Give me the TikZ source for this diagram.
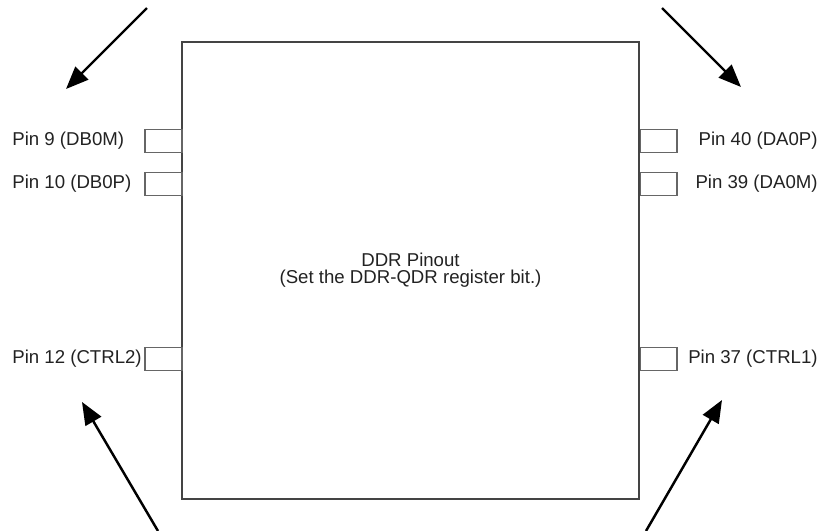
\documentclass[tikz,border=0pt]{standalone}
\usepackage{fontspec}
\setmainfont{Liberation Sans}
\usetikzlibrary{arrows.meta}
\definecolor{ink}{HTML}{222222}
\definecolor{boxink}{HTML}{444444}
\definecolor{pinink}{HTML}{666666}

\begin{document}
\begin{tikzpicture}[x=0.02cm,y=-0.02cm,
    chip/.style={draw=boxink,line width=1.5pt,minimum size=9.14cm,inner sep=0pt,
      align=center,font=\fontsize{10.6}{9.8}\selectfont,text=ink},
    pinbox/.style={draw=pinink,line width=0.6pt,minimum width=0.74cm,minimum height=0.45cm,inner sep=0pt},
    pinlabel/.style={font=\fontsize{10.6}{12}\selectfont,text=ink,inner sep=0pt},
    pointer/.style={draw=black,line width=1.4pt,-{Triangle[length=0.45cm,width=0.36cm]}}]
  \useasboundingbox (0,0) rectangle (823,531);
  \node[chip] (ddr) at (410.5,270.5) {DDR Pinout\\(Set the DDR-QDR register bit.)};
  % pins on the left side
  \foreach \y/\n/\lab in {141/9/{Pin 9 (DB0M)},184/10/{Pin 10 (DB0P)},359/12/{Pin 12 (CTRL2)}}{
    \node[pinbox,anchor=east] (pin\n) at (182.5,\y) {};
    \node[pinlabel,anchor=west] (lab\n) at (12,\y) {\lab};}
  % pins on the right side
  \foreach \y/\n/\lab in {141/40/{Pin 40 (DA0P)},184/39/{Pin 39 (DA0M)},359/37/{Pin 37 (CTRL1)}}{
    \node[pinbox,anchor=west] (pin\n) at (639.5,\y) {};
    \node[pinlabel,anchor=east] (lab\n) at (818,\y) {\lab};}
  % arrows
  \coordinate (tlfrom) at (147,8);   \coordinate (tlto) at (66,89);
  \coordinate (trfrom) at (662,8);   \coordinate (trto) at (741,87);
  \coordinate (blfrom) at (158,531); \coordinate (blto) at (82,402);
  \coordinate (brfrom) at (646,531); \coordinate (brto) at (722,400);
  \draw[pointer] (tlfrom) -- (tlto);
  \draw[pointer] (trfrom) -- (trto);
  \draw[pointer] (blfrom) -- (blto);
  \draw[pointer] (brfrom) -- (brto);
\end{tikzpicture}
\end{document}
